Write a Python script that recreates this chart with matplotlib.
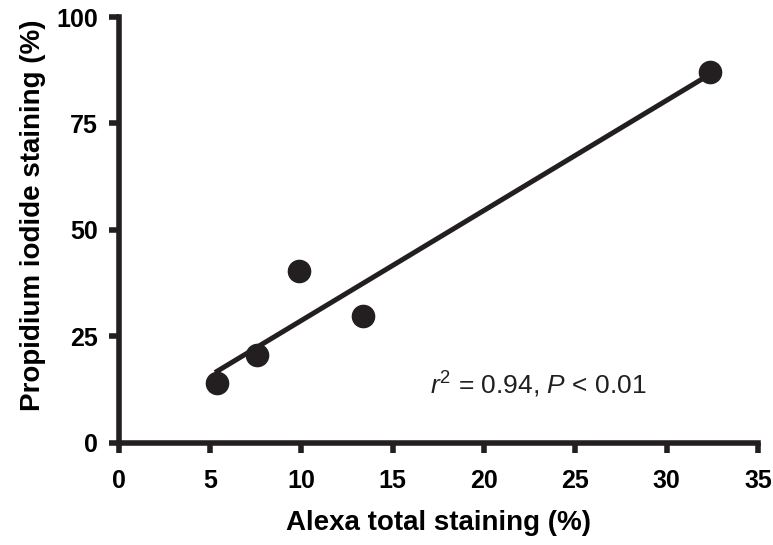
import numpy as np
import matplotlib.pyplot as plt

plt.rcParams['font.family'] = ['Liberation Sans', 'DejaVu Sans']
plt.rcParams['mathtext.fontset'] = 'custom'
plt.rcParams['mathtext.rm'] = 'Liberation Sans'
plt.rcParams['mathtext.it'] = 'Liberation Sans:italic'

alexa = [5.4, 7.6, 9.9, 13.4, 32.4]
propidium = [14.0, 20.6, 40.3, 29.7, 87.1]
xticks = [0, 5, 10, 15, 20, 25, 30, 35]
yticks = [0, 25, 50, 75, 100]

ink = '#231f20'

fig = plt.figure(figsize=(7.73, 5.45), dpi=100)
ax = fig.add_axes([0.1533, 0.188, 0.8273, 0.7807])

# linear fit through the points
a, b = np.polyfit(alexa, propidium, 1)
xfit = np.array([min(alexa), max(alexa)])
ax.plot(xfit, a * xfit + b, color=ink, linewidth=3.6, zorder=2)
ax.plot(alexa, propidium, 'o', color=ink, markersize=16, zorder=3)

ax.set_xlim(0, 35)
ax.set_ylim(0, 100)
ax.set_xticks(xticks)
ax.set_yticks(yticks)
for s in ['top', 'right']:
    ax.spines[s].set_visible(False)
for s in ['left', 'bottom']:
    ax.spines[s].set_linewidth(4)
    ax.spines[s].set_color(ink)
    ax.spines[s].set_capstyle('projecting')
ax.tick_params(direction='out', length=7, width=4, color=ink, labelsize=18)
ax.tick_params(axis='x', pad=12)
ax.tick_params(axis='y', pad=8)
for lab in ax.get_xticklabels() + ax.get_yticklabels():
    lab.set_fontweight('bold')

ax.set_xlabel('Alexa total staining (%)', fontsize=20, fontweight='bold', labelpad=12)
ax.set_ylabel('Propidium iodide staining (%)', fontsize=20, fontweight='bold')
ax.yaxis.set_label_coords(-0.113, 0.535)

ax.text(23.0, 13.5, r'$\mathit{r}^{2}$ = 0.94, $\mathit{P}$ < 0.01', fontsize=19,
        ha='center', va='center', color=ink)

fig.savefig('out.png', dpi=100)
